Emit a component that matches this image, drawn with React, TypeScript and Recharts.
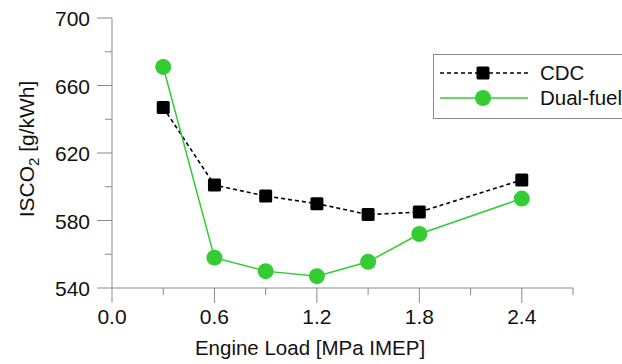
import React from 'react';
import { LineChart, Line, XAxis, YAxis } from 'recharts';

const loads = [0.3, 0.6, 0.9, 1.2, 1.5, 1.8, 2.4];
const cdcValues = [647, 601, 594.5, 590, 583.5, 585, 604];
const dualFuelValues = [671, 558, 550, 547, 555.5, 572, 593];
const xMajorTicks = [0, 0.6, 1.2, 1.8, 2.4];
const xMinorTicks = [0.3, 0.9, 1.5, 2.1, 2.7];
const yMajorTicks = [540, 580, 620, 660, 700];
const yMinorTicks = [560, 600, 640, 680];
const seriesNames = ['CDC', 'Dual-fuel'];
const xTitle = 'Engine Load [MPa IMEP]';

const data = loads.map((load, i) => ({ load, cdc: cdcValues[i], dual: dualFuelValues[i] }));
const xTicks = [...xMajorTicks, ...xMinorTicks].sort((a, b) => a - b);
const yTicks = [...yMajorTicks, ...yMinorTicks].sort((a, b) => a - b);

const FONT = '"Liberation Sans", Arial, sans-serif';
const AXIS = '#8a8a8a';
const GREEN = '#33cc33';

const XTick = (props: any) => {
  const { x, y, payload } = props;
  const major = xMajorTicks.includes(payload.value);
  return (
    <g>
      <line x1={x} x2={x} y1={y} y2={y + (major ? 15 : 7)} stroke={AXIS} strokeWidth={1} />
      {major && (
        <text x={x} y={y + 36} textAnchor="middle" fontSize={21} fontFamily={FONT} fill="#111">
          {payload.value.toFixed(1)}
        </text>
      )}
    </g>
  );
};

const YTick = (props: any) => {
  const { x, y, payload } = props;
  const major = yMajorTicks.includes(payload.value);
  return (
    <g>
      <line x1={x - (major ? 15 : 7)} x2={x} y1={y} y2={y} stroke={AXIS} strokeWidth={1} />
      {major && (
        <text x={x - 22} y={y + 8} textAnchor="end" fontSize={21} fontFamily={FONT} fill="#111">
          {payload.value}
        </text>
      )}
    </g>
  );
};

const YTitle = () => (
  <text
    x={34}
    y={149}
    transform="rotate(-90 34 149)"
    textAnchor="middle"
    fontSize={21}
    fontFamily={FONT}
    fill="#111"
  >
    ISCO<tspan fontSize={15} dy={5}>2</tspan>
    <tspan dy={-5}> [g/kWh]</tspan>
  </text>
);

const XTitle = () => (
  <text x={310} y={355} textAnchor="middle" fontSize={20.5} fontFamily={FONT} fill="#111">
    {xTitle}
  </text>
);

const SquareDot = (p: any) => (
  <rect key={`sq-${p.index}`} x={p.cx - 6.5} y={p.cy - 6.5} width={13} height={13} rx={1.5} fill="#000" />
);
const CircleDot = (p: any) => (
  <circle key={`ci-${p.index}`} cx={p.cx} cy={p.cy} r={8} fill={GREEN} />
);

const LegendBox = () => (
  <svg width={189} height={66} style={{ display: 'block' }}>
    <rect x={0.5} y={0.5} width={220} height={64} fill="#fff" stroke={AXIS} strokeWidth={1} />
    <line x1={7} x2={95} y1={19} y2={19} stroke="#000" strokeWidth={1.6} strokeDasharray="4 3" />
    <rect x={43.5} y={12.5} width={13} height={13} rx={1.5} fill="#000" />
    <text x={107} y={26} fontSize={20.5} fontFamily={FONT} fill="#111">{seriesNames[0]}</text>
    <line x1={7} x2={95} y1={44} y2={44} stroke={GREEN} strokeWidth={1.5} />
    <circle cx={50} cy={44} r={8} fill={GREEN} />
    <text x={107} y={51} fontSize={20.5} fontFamily={FONT} fill="#111">{seriesNames[1]}</text>
  </svg>
);

export default function App() {
  return (
    <div style={{ position: 'absolute', left: 0, top: 0, width: 622, height: 364, background: '#fff', overflow: 'hidden' }}>
      <LineChart width={622} height={364} data={data} margin={{ top: 18, right: 49, bottom: 0, left: 0 }}>
        <XAxis
          dataKey="load"
          type="number"
          domain={[0, 2.7]}
          ticks={xTicks}
          interval={0}
          height={76}
          tickSize={0}
          tickMargin={0}
          tickLine={false}
          tick={<XTick />}
          axisLine={{ stroke: AXIS, strokeWidth: 1 }}
          label={<XTitle />}
        />
        <YAxis
          type="number"
          domain={[540, 700]}
          ticks={yTicks}
          interval={0}
          width={112}
          tickSize={0}
          tickMargin={0}
          tickLine={false}
          tick={<YTick />}
          axisLine={{ stroke: AXIS, strokeWidth: 1 }}
          label={<YTitle />}
        />
        <Line
          type="linear"
          dataKey="cdc"
          name={seriesNames[0]}
          stroke="#000"
          strokeWidth={1.6}
          strokeDasharray="4 3"
          dot={SquareDot}
          isAnimationActive={false}
        />
        <Line
          type="linear"
          dataKey="dual"
          name={seriesNames[1]}
          stroke={GREEN}
          strokeWidth={1.5}
          dot={CircleDot}
          isAnimationActive={false}
        />
      </LineChart>
      <div style={{ position: 'absolute', left: 433, top: 54 }}>
        <LegendBox />
      </div>
    </div>
  );
}
